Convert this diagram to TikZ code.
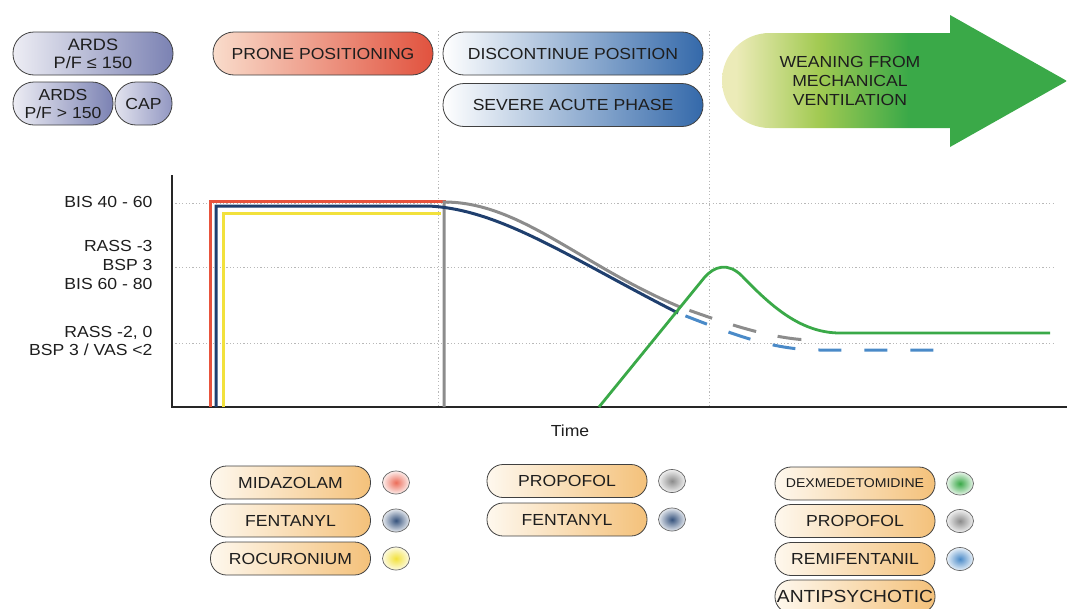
\documentclass[tikz,border=0pt]{standalone}
\usepackage{fontspec}
\setmainfont[FakeStretch=1.1]{Liberation Sans}
\usetikzlibrary{shapes.geometric}
\definecolor{ardsL}{HTML}{EDEDF4}
\definecolor{ardsR}{HTML}{7B82B3}
\definecolor{capL}{HTML}{E2E3EE}
\definecolor{capR}{HTML}{9297C2}
\definecolor{proneL}{HTML}{F9DCCB}
\definecolor{proneR}{HTML}{E1523E}
\definecolor{blueL}{HTML}{FFFFFF}
\definecolor{blueM}{HTML}{7DB0DA}
\definecolor{blueR}{HTML}{3469AA}
\definecolor{crL}{HTML}{FEF8EE}
\definecolor{crR}{HTML}{F4C17A}
\definecolor{wlight}{HTML}{ECEBB8}
\definecolor{wmid}{HTML}{A2CA52}
\definecolor{wgreen}{HTML}{3AA948}
\definecolor{cRed}{HTML}{E8533C}
\definecolor{cNavy}{HTML}{1F3F6E}
\definecolor{cYel}{HTML}{F2E13C}
\definecolor{cGray}{HTML}{8C8C8C}
\definecolor{cGreen}{HTML}{3AA948}
\definecolor{cLBlue}{HTML}{4A8AC8}
\definecolor{txt}{HTML}{1E1E1E}
\pgfdeclarehorizontalshading{weaning}{100bp}{color(0bp)=(wlight); color(27bp)=(wlight); color(39bp)=(wmid); color(52bp)=(wgreen); color(100bp)=(wgreen)}
\begin{document}
\begin{tikzpicture}[x=1pt,y=-1pt,
  lbl/.style={font=\fontsize{16}{19}\selectfont, text=txt},
  pill/.style={lbl, draw=black!75, line width=0.8pt, inner sep=0pt, rectangle, align=center},
  toppill/.style={pill, minimum height=43pt, rounded corners=21pt},
  botpill/.style={pill, minimum width=160pt, minimum height=33pt, rounded corners=16pt, left color=crL, right color=crR},
  dotmark/.style={ellipse, draw=black!60, line width=0.7pt, minimum width=27pt, minimum height=23pt, inner sep=0pt},
  ylab/.style={lbl, anchor=base east},
  gridline/.style={draw=black!28, line width=0.9pt, dash pattern=on 1.2pt off 2.2pt},
  curve/.style={line width=3pt}]
\useasboundingbox (0,0) rectangle (1067,608);
\clip (0,0) rectangle (1067,608);

% top-left pills
\node[toppill, minimum width=160pt, left color=ardsL, right color=ardsR, font=\fontsize{16.5}{18}\selectfont] (ards1) at (93,53.5) {ARDS\\P/F ≤ 150};
\node[toppill, minimum width=100pt, left color=ardsL, right color=ardsR, font=\fontsize{16}{18}\selectfont] (ards2) at (63,103.5) {ARDS\\P/F > 150};
\node[toppill, minimum width=57pt, left color=capL, right color=capR] (cap) at (143.5,103.5) {CAP};

% phase pills
\node[toppill, minimum width=220pt, left color=proneL, right color=proneR] (prone) at (323,53.5) {PRONE POSITIONING};
\node[toppill, minimum width=260pt, left color=blueL, middle color=blueM, right color=blueR] (discont) at (573,53.5) {DISCONTINUE POSITION};
\node[toppill, minimum width=260pt, left color=blueL, middle color=blueM, right color=blueR] (severe) at (573,105) {SEVERE ACUTE PHASE};

% weaning arrow
\path[shading=weaning] (769.5,33) -- (950,33) -- (950,15) -- (1067,81) -- (950,147) -- (950,128) -- (769.5,128)
  .. controls (743.3,128) and (722,106.7) .. (722,80.5)
  .. controls (722,54.3) and (743.3,33) .. (769.5,33) -- cycle;
\node[lbl, align=center, font=\fontsize{16}{19}\selectfont] (wean) at (850,81) {WEANING FROM\\MECHANICAL\\VENTILATION};

% grid
\draw[gridline] (172,203) -- (1055,203);
\draw[gridline] (172,267) -- (1055,267);
\draw[gridline] (172,343) -- (1055,343);
\draw[gridline] (438,31) -- (438,407);
\draw[gridline] (709,31) -- (709,407);

% axes
\draw[line width=1.3pt, black!85] (172,175) -- (172,407) -- (1067,407);

% y labels
\node[ylab] (l1) at (156,207.7) {BIS 40 - 60};
\node[ylab] (l2) at (156,251.7) {RASS -3};
\node[ylab] (l3) at (156,270.7) {BSP 3};
\node[ylab] (l4) at (156,289.7) {BIS 60 - 80};
\node[ylab] (l5) at (156,337.7) {RASS -2, 0};
\node[ylab] (l6) at (156,355.7) {BSP 3 / VAS <2};
\node[lbl, anchor=base] (time) at (570,436.5) {Time};

% curves
\draw[curve, cRed] (210,407) -- (210,201) -- (446,201);
\draw[curve, cYel] (223,407) -- (223,213) -- (441,213);
\draw[curve, cGray] (444,407) -- (444,202) .. controls (520,202) and (580,265) .. (680,307);
\draw[curve, cNavy] (216,407) -- (216,206) -- (428,206) .. controls (500,209) and (570,258) .. (678,313);
\draw[curve, cGray, dash pattern=on 24pt off 22pt, dash phase=36pt] (680,307) .. controls (730,325) and (770,338) .. (808,340);
\draw[curve, cLBlue, dash pattern=on 23pt off 23pt, dash phase=38pt] (678,313) .. controls (730,333) and (770,350) .. (820,350) -- (942,350);
\draw[line width=2.8pt, cGreen] (599,407) -- (704,278) .. controls (714,266) and (728,262) .. (742,276) .. controls (770,305) and (800,333) .. (840,333) -- (1050,333);

% drug legends
\node[botpill] (mida) at (290.5,482.5) {MIDAZOLAM};
\node[botpill] (fent1) at (290.5,520.5) {FENTANYL};
\node[botpill] (rocu) at (290.5,558.5) {ROCURONIUM};
\node[dotmark, inner color=cRed!85, outer color=cRed!10] (dmida) at (396,482.5) {};
\node[dotmark, inner color=cNavy!90, outer color=cNavy!12] (dfent1) at (396,520.5) {};
\node[dotmark, inner color=cYel, outer color=cYel!15] (drocu) at (396,558.5) {};

\node[botpill] (prop1) at (567,481) {PROPOFOL};
\node[botpill] (fent2) at (567,519.5) {FENTANYL};
\node[dotmark, inner color=cGray, outer color=black!6] (dprop1) at (672,481) {};
\node[dotmark, inner color=cNavy!90, outer color=cNavy!12] (dfent2) at (672,519.5) {};

\node[botpill, font=\fontsize{12.8}{15}\selectfont] (dex) at (855,483.5) {DEXMEDETOMIDINE};
\node[botpill] (prop2) at (855,521) {PROPOFOL};
\node[botpill] (remi) at (855,559) {REMIFENTANIL};
\node[botpill, font=\fontsize{17.5}{20}\selectfont] (anti) at (855,596.5) {ANTIPSYCHOTIC};
\node[dotmark, inner color=cGreen, outer color=cGreen!12] (ddex) at (960,483.5) {};
\node[dotmark, inner color=cGray, outer color=black!6] (dprop2) at (960,521) {};
\node[dotmark, inner color=cLBlue, outer color=cLBlue!12] (dremi) at (960,559) {};
\end{tikzpicture}
\end{document}
